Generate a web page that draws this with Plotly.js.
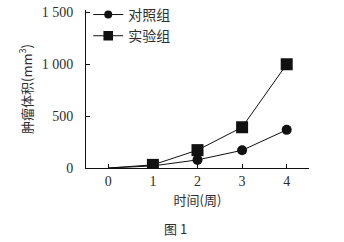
<!DOCTYPE html>
<html><head><meta charset="utf-8">
<script src="https://cdn.plot.ly/plotly-3.0.1.min.js"></script>
<style>html,body{margin:0;padding:0;background:#fff}#c{width:344px;height:242px}</style>
</head><body><div id="c"></div>
<script>
const weeks = [0, 1, 2, 3, 4];
const control = [0, 20, 78, 170, 367];
const experiment = [0, 30, 172, 392, 998];
const yTicks = [0, 500, 1000, 1500];
const yTickText = ['0', '500', '1 000', '1 500'];
const seriesNames = ['对照组', '实验组'];

const ink = '#111';
const txt = '#2e2e2e';
const serif = 'Liberation Serif, serif';
const cjk = 'Noto Sans CJK SC, sans-serif';

const traces = [
  {x: weeks, y: control, name: seriesNames[0], mode: 'lines+markers',
   line: {color: ink, width: 1},
   marker: {symbol: 'circle', size: weeks.map(w => w === 0 ? 0 : 10), color: ink, opacity: 1, line: {width: 0}}},
  {x: weeks, y: experiment, name: seriesNames[1], mode: 'lines+markers',
   line: {color: ink, width: 1},
   marker: {symbol: 'square', size: weeks.map(w => w === 0 ? 0 : 12), color: ink, opacity: 1, line: {width: 0}}}
];

const layout = {
  width: 344, height: 242,
  margin: {l: 86, r: 35, t: 10, b: 74, autoexpand: false},
  paper_bgcolor: '#fff', plot_bgcolor: '#fff',
  showlegend: true,
  legend: {x: 0.01, y: 1.07, xanchor: 'left', yanchor: 'top', bgcolor: 'rgba(0,0,0,0)',
    font: {family: cjk, size: 14, color: txt}, itemwidth: 30, tracegroupgap: 4},
  xaxis: {range: [-0.5, 4.5], tickvals: weeks, ticks: 'inside', ticklen: 4, tickcolor: ink,
    showline: true, linecolor: ink, linewidth: 1, showgrid: false, zeroline: false,
    tickfont: {family: serif, size: 14, color: txt},
    title: {text: '时间(周)', font: {family: cjk, size: 13, color: txt}, standoff: 8}},
  yaxis: {range: [0, 1520], tickvals: yTicks, ticktext: yTickText, ticks: 'inside', ticklen: 4, tickcolor: ink,
    showline: true, linecolor: ink, linewidth: 1, showgrid: false, zeroline: false,
    ticklabelstandoff: 9,
    tickfont: {family: serif, size: 14, color: txt},
    title: {text: '肿瘤体积(mm<sup>3</sup>)', font: {family: cjk, size: 13, color: txt}, standoff: 6}},
  annotations: [{text: '图 1', xref: 'paper', yref: 'paper', x: 0.4, y: -0.38, xanchor: 'center', yanchor: 'middle',
    showarrow: false, font: {family: cjk, size: 13, color: txt}}]
};

Plotly.newPlot('c', traces, layout, {displayModeBar: false, staticPlot: true});
</script></body></html>
